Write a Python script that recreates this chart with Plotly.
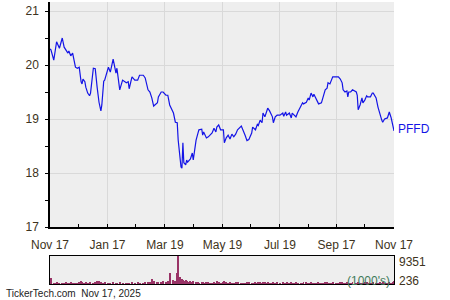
import pandas as pd
import plotly.graph_objects as go

start_date = "2024-11-17"
# days since start
days = [0,1,4,5,7,10,13,15,17,19,
        20,22,24,27,29,31,33,34,35,37,
        38,40,42,43,46,48,50,52,54,55,
        57,58,62,64,67,70,71,74,77,81,
        83,84,87,90,93,95,99,101,104,106,
        108,110,114,115,118,120,123,125,127,131,
        133,135,136,138,139,140,141,142,144,145,
        146,149,151,152,155,157,158,161,162,163,
        166,168,170,172,174,176,177,179,181,184,
        185,187,189,191,193,195,197,199,203,205,
        207,209,211,214,215,218,220,221,223,225,
        226,228,230,231,233,236,237,239,241,244,
        247,248,250,251,254,256,257,259,261,263,
        266,268,269,272,274,275,277,279,280,282,
        284,285,288,290,292,294,295,297,299,300,
        303,306,308,310,311,313,315,316,317,319,
        321,325,326,327,329,331,332,334,336,337,
        340,342,343,346,348,350,352,353,355,358,
        359,360,362,363,364,365]
prices = [20.30,20.28,20.09,20.22,20.43,20.31,20.50,20.33,20.28,20.22,
          20.26,20.17,20.22,19.96,19.94,19.96,19.69,19.65,19.74,19.69,
          19.59,19.48,19.43,19.48,19.94,19.93,19.59,19.31,19.15,19.26,
          19.70,19.72,19.96,19.87,20.11,19.85,19.94,19.54,19.72,19.67,
          19.69,19.56,19.78,19.72,19.72,19.81,19.81,19.76,19.54,19.50,
          19.39,19.24,19.30,19.41,19.50,19.50,19.44,19.44,19.26,19.11,
          18.94,18.93,18.61,18.24,18.11,18.09,18.56,18.19,18.15,18.24,
          18.20,18.26,18.37,18.24,18.61,18.74,18.80,18.81,18.70,18.76,
          18.65,18.67,18.70,18.74,18.83,18.76,18.85,18.89,18.80,18.80,
          18.56,18.65,18.70,18.63,18.72,18.67,18.72,18.80,18.87,18.80,
          18.70,18.60,18.62,18.74,18.85,18.80,18.90,18.88,18.98,18.93,
          19.11,19.04,19.13,19.20,19.15,19.04,18.93,19.04,19.07,19.07,
          19.11,19.05,19.13,19.07,19.11,19.02,19.11,19.07,19.04,19.13,
          19.22,19.30,19.28,19.31,19.39,19.35,19.48,19.41,19.46,19.39,
          19.31,19.28,19.30,19.44,19.54,19.57,19.67,19.65,19.72,19.78,
          19.78,19.78,19.74,19.67,19.54,19.50,19.52,19.41,19.50,19.50,
          19.54,19.50,19.44,19.17,19.26,19.39,19.30,19.35,19.43,19.41,
          19.41,19.48,19.48,19.39,19.22,19.07,18.98,18.94,19.00,19.02,
          19.11,19.13,19.02,18.93,18.91,18.78]
volumes = [900,2200,700,600,800,500,700,600,900,700,
           600,800,700,600,700,900,1200,800,700,600,
           800,700,900,600,700,800,1100,1200,900,700,
           600,800,700,600,900,700,600,800,700,600,
           700,600,800,700,900,600,700,800,900,1000,
           1800,1200,900,800,1000,1100,900,1200,3800,1500,
           1300,3800,9351,2500,2000,1800,1500,1200,1400,1100,
           1000,1300,900,1100,800,900,700,800,1000,700,
           800,900,700,600,800,700,1300,900,700,800,
           1200,900,700,800,600,700,800,900,700,600,
           700,800,900,600,700,800,700,900,800,700,
           1000,800,700,900,700,600,800,700,900,700,
           800,600,700,900,700,800,600,700,800,700,
           600,700,800,900,700,600,800,700,600,700,
           800,700,600,700,900,800,700,600,700,800,
           700,600,800,900,700,600,800,700,600,700,
           800,700,600,900,700,600,700,800,900,700,
           600,700,800,700,600,800,700,900,700,600,
           700,800,600,700,900,1100]
assert len(days) == len(prices) == len(volumes)

tick_dates = ["2024-11-17","2025-01-17","2025-03-19","2025-05-19","2025-07-19","2025-09-17","2025-11-17"]
tick_labels = ["Nov 17","Jan 17","Mar 19","May 19","Jul 19","Sep 17","Nov 17"]
minor_dates = ["2024-12-17","2025-02-16","2025-04-18","2025-06-18","2025-08-18","2025-10-17"]
y_ticks = [17, 18, 19, 20, 21]
vol_max_label = "9351"
vol_min_label = "236"
ticker = "PFFD"

dates = pd.Timestamp(start_date) + pd.to_timedelta(days, unit="D")

FONT = "Liberation Sans, Arial, sans-serif"
TXT = "#3d3320"

fig = go.Figure()
fig.add_trace(go.Scatter(x=dates, y=prices, mode="lines",
                         line=dict(color="#1414e6", width=1.2),
                         xaxis="x", yaxis="y", hoverinfo="skip"))
fig.add_trace(go.Bar(x=dates, y=volumes, marker=dict(color="#993366", line=dict(width=0)),
                     width=86400000 * 1.0, xaxis="x2", yaxis="y2", hoverinfo="skip"))

xr = [pd.Timestamp("2024-11-17"), pd.Timestamp("2025-11-17")]
dom_x = [50/450, 394/450]

fig.update_layout(
    width=450, height=300,
    margin=dict(l=0, r=0, t=0, b=0, autoexpand=False),
    paper_bgcolor="white", plot_bgcolor="#eeeeee",
    showlegend=False, bargap=0,
    font=dict(family=FONT, size=12, color=TXT),
    xaxis=dict(domain=dom_x, range=xr, type="date", automargin=False,
               tickvals=tick_dates, ticktext=tick_labels,
               showgrid=True, gridcolor="#d9d9d9", gridwidth=1,
               showline=True, linecolor="black", linewidth=1.5,
               ticks="inside", ticklen=3, tickcolor="black",
               ticklabelstandoff=6,
               minor=dict(tickvals=minor_dates, ticks="inside", ticklen=3,
                          tickcolor="black", showgrid=False),
               tickfont=dict(size=12, color=TXT), zeroline=False, anchor="y"),
    yaxis=dict(domain=[1-227/300, 1-2/300], range=[17, 17 + 225/54], automargin=False,
               tickvals=y_ticks, showgrid=True, gridcolor="#d9d9d9", gridwidth=1,
               showline=True, linecolor="black", linewidth=1.5,
               ticks="outside", ticklen=3, tickcolor="black",
               ticklabelstandoff=4,
               minor=dict(tickvals=[17.5, 18.5, 19.5, 20.5], ticks="outside", ticklen=3,
                          tickcolor="black", showgrid=False),
               tickfont=dict(size=12, color=TXT), zeroline=False, anchor="x"),
    xaxis2=dict(domain=dom_x, range=xr, type="date", showticklabels=False, automargin=False,
                showgrid=False, ticks="", showline=True, mirror=True,
                linecolor="black", linewidth=1.2, zeroline=False, anchor="y2"),
    yaxis2=dict(domain=[1-284/300, 1-256/300], range=[236, 9351], automargin=False,
                showticklabels=False, showgrid=False, ticks="", showline=True,
                mirror=True, linecolor="black", linewidth=1.2, zeroline=False, anchor="x2"),
)

fig.add_annotation(x=dates[-1], y=prices[-1], xref="x", yref="y", text=ticker,
                   showarrow=False, xanchor="left", xshift=2, yshift=2,
                   font=dict(size=12, color="#1414e6", family=FONT))
fig.add_annotation(x=397/450, y=1-262/300, xref="paper", yref="paper", text=vol_max_label,
                   showarrow=False, xanchor="left", yanchor="middle",
                   font=dict(size=12, color=TXT, family=FONT))
fig.add_annotation(x=397/450, y=1-281/300, xref="paper", yref="paper", text=vol_min_label,
                   showarrow=False, xanchor="left", yanchor="middle",
                   font=dict(size=12, color=TXT, family=FONT))
fig.add_annotation(x=392/450, y=1-281/300, xref="paper", yref="paper", text="(1000's)",
                   showarrow=False, xanchor="right", yanchor="middle",
                   font=dict(size=12, color="#3f7a5a", family=FONT))
fig.add_annotation(x=4/450, y=1-293/300, xref="paper", yref="paper",
                   text="TickerTech.com&nbsp;&nbsp;Nov 17, 2025",
                   showarrow=False, xanchor="left", yanchor="middle",
                   font=dict(size=10, color="#222222", family=FONT))

fig.write_html("out.html")
